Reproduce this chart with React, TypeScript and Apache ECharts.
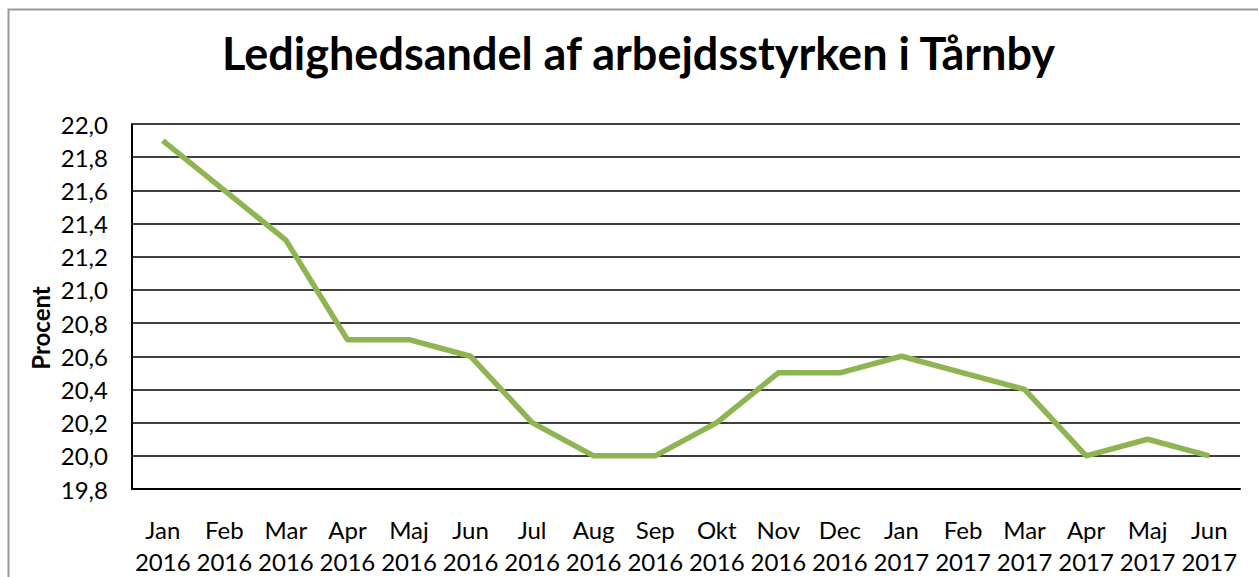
import React, { useEffect, useRef } from "react";
import * as echarts from "echarts";

const months = ["Jan", "Feb", "Mar", "Apr", "Maj", "Jun", "Jul", "Aug", "Sep", "Okt", "Nov", "Dec", "Jan", "Feb", "Mar", "Apr", "Maj", "Jun"];
const years = ["2016", "2016", "2016", "2016", "2016", "2016", "2016", "2016", "2016", "2016", "2016", "2016", "2017", "2017", "2017", "2017", "2017", "2017"];
const values = [21.9, 21.6, 21.3, 20.7, 20.7, 20.6, 20.2, 20.0, 20.0, 20.2, 20.5, 20.5, 20.6, 20.5, 20.4, 20.0, 20.1, 20.0];
const categories = months.map((m, i) => m + "\n" + years[i]);

const FONT = "Lato";

export default function App() {
  const ref = useRef<HTMLDivElement>(null);
  useEffect(() => {
    document.body.style.margin = "0";
    const chart = echarts.init(ref.current!, null, { renderer: "svg" });
    chart.setOption({
      animation: false,
      backgroundColor: "#ffffff",
      title: {
        text: "Ledighedsandel af arbejdsstyrken i Tårnby",
        left: 217,
        top: 25,
        textStyle: { fontFamily: FONT, fontWeight: "bold", fontSize: 45, color: "#000" },
      },
      graphic: [
        {
          type: "rect",
          shape: { x: 8.5, y: 9.5, width: 1300, height: 640 },
          style: { fill: "none", stroke: "#999999", lineWidth: 2 },
          silent: true,
          z: -1,
        },
        {
          type: "text",
          x: 40,
          y: 328,
          rotation: Math.PI / 2,
          style: {
            text: "Procent",
            fontFamily: FONT,
            fontWeight: "bold",
            fontSize: 24,
            fill: "#000",
            align: "center",
            verticalAlign: "middle",
          },
        },
      ],
      grid: { left: 132, right: 18, top: 124, bottom: 88, containLabel: false },
      xAxis: {
        type: "category",
        data: categories,
        boundaryGap: true,
        axisLine: { show: true, lineStyle: { color: "#000", width: 2 } },
        axisTick: { show: false },
        axisLabel: {
          interval: 0,
          fontFamily: FONT,
          fontSize: 24,
          color: "#000",
          lineHeight: 32,
          margin: 24,
        },
      },
      yAxis: {
        type: "value",
        min: 19.8,
        max: 22.0,
        interval: 0.2,
        axisLine: { show: true, lineStyle: { color: "#000", width: 2 } },
        axisTick: { show: false },
        splitLine: { show: true, lineStyle: { color: "#000", width: 1.5 } },
        axisLabel: {
          fontFamily: FONT,
          fontSize: 24,
          color: "#000",
          margin: 24,
          formatter: (v: number) => v.toFixed(1).replace(".", ","),
        },
      },
      series: [
        {
          type: "line",
          data: values,
          symbol: "none",
          lineStyle: { color: "#8fb553", width: 5.5 },
        },
      ],
    });
    return () => chart.dispose();
  }, []);
  return <div ref={ref} style={{ width: 1258, height: 577 }} />;
}
